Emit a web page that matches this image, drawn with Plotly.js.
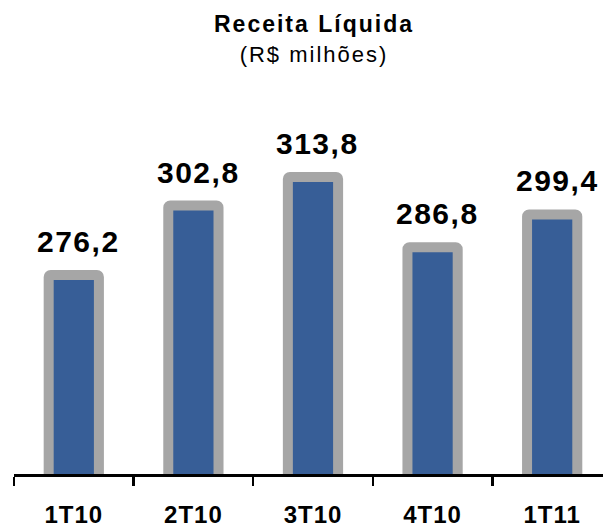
<!DOCTYPE html>
<html>
<head>
<meta charset="utf-8">
<script src="https://cdn.plot.ly/plotly-3.0.1.min.js"></script>
<style>
  html, body { margin: 0; padding: 0; background: #ffffff; }
  #chart { width: 603px; height: 528px; }
  .gtitle { letter-spacing: 2px; }
  .annotation-text { letter-spacing: 1.5px; }
  .xtick text { letter-spacing: 1px; }
</style>
</head>
<body>
<div id="chart"></div>
<script>
  const categories = ["1T10", "2T10", "3T10", "4T10", "1T11"];
  const receita = [276.2, 302.8, 313.8, 286.8, 299.4];

  const FONT = "Liberation Sans, Arial, Helvetica, sans-serif";
  const BAR_BLUE = "#375e97";
  const BAR_GRAY = "#a6a6a6";

  function fmt(v) {
    return v.toFixed(1).replace(".", ",");
  }

  const trace = {
    type: "bar",
    x: categories,
    y: receita,
    width: 0.42,
    marker: {
      color: BAR_BLUE,
      line: { color: BAR_GRAY, width: 10 },
      cornerradius: 2,
    },
    hoverinfo: "skip",
  };

  const labels = categories.map(function (c, i) {
    return {
      x: c,
      y: receita[i],
      xref: "x",
      yref: "y",
      text: "<b>" + fmt(receita[i]) + "</b>",
      showarrow: false,
      yanchor: "bottom",
      xanchor: "center",
      yshift: 15,
      xshift: 5,
      font: { family: FONT, size: 30, color: "#000000" },
    };
  });

  const layout = {
    width: 603,
    height: 528,
    margin: { l: 14, r: 0, t: 100, b: 54 },
    paper_bgcolor: "#ffffff",
    plot_bgcolor: "#ffffff",
    font: { family: FONT, color: "#000000" },
    showlegend: false,
    title: {
      text: "<b>Receita Líquida</b><br><span style='font-size:22px'>(R$ milhões)</span>",
      font: { family: FONT, size: 23, color: "#000000" },
      x: 314 / 603,
      xanchor: "center",
      xref: "container",
      y: 1 - 32 / 528,
      yanchor: "top",
      yref: "container",
    },
    xaxis: {
      type: "category",
      range: [-0.5, 4.425],
      showline: true,
      linecolor: "#000000",
      linewidth: 2.5,
      ticks: "outside",
      tickson: "boundaries",
      ticklen: 9,
      tickwidth: 2.5,
      tickcolor: "#000000",
      ticklabelstandoff: 18,
      tickfont: { family: FONT, size: 24, weight: "bold", color: "#000000" },
      showgrid: false,
      zeroline: false,
      fixedrange: true,
    },
    yaxis: {
      range: [199.8, 343.3],
      visible: false,
      showgrid: false,
      zeroline: false,
      fixedrange: true,
    },
    annotations: labels,
  };

  Plotly.newPlot("chart", [trace], layout, {
    displayModeBar: false,
    staticPlot: true,
  });
</script>
</body>
</html>
